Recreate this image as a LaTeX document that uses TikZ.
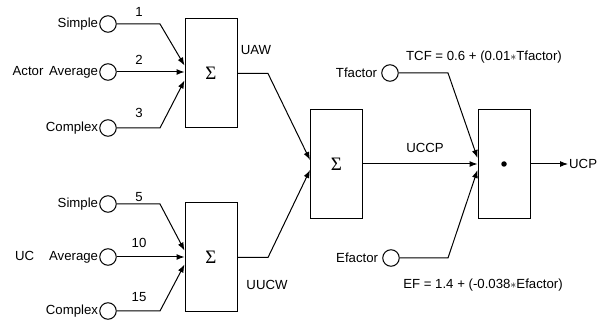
\documentclass[tikz,border=0pt]{standalone}
\usepackage{fontspec}
\setmainfont{Liberation Sans}
\newfontfamily\sigfont{Liberation Serif}
\usetikzlibrary{arrows.meta}
\begin{document}
\begin{tikzpicture}[x=1pt,y=-1pt,
 font=\fontsize{13.2}{15}\selectfont,
 ln/.style={line width=1pt},
 arr/.style={ln,-{Latex[length=8pt,width=6pt]}},
 inp/.style={circle,draw,line width=1pt,minimum size=16.5pt,inner sep=0pt},
 box/.style={draw,line width=1pt,minimum width=52pt,minimum height=109pt,inner sep=0pt},
 lbl/.style={inner sep=1pt},
 sig/.style={font=\sigfont\fontsize{19}{19}\selectfont}]
\useasboundingbox (0,0) rectangle (605,320);
% boxes
\node[box,sig] (b1) at (211,73.5) {Σ};
\node[box,sig] (b2) at (211,257.5) {Σ};
\node[box,sig] (b3) at (336.5,164) {Σ};
\node[box] (b4) at (504,164) {};
\node[circle,fill,inner sep=0pt,minimum size=5.5pt] (dot) at (b4.center) {};
% input circles
\node[inp] (a1) at (108,24) {};
\node[inp] (a2) at (108,72) {};
\node[inp] (a3) at (108,128) {};
\node[inp] (u1) at (108,204) {};
\node[inp] (u2) at (108,257) {};
\node[inp] (u3) at (108,311) {};
\node[inp] (tf) at (390,73) {};
\node[inp] (ef) at (391,258) {};
% input labels
\node[lbl,anchor=east] at (a1.west) {Simple};
\node[lbl,anchor=east] at (a2.west) {Actor\hspace{2pt} Average};
\node[lbl,anchor=east] at (a3.west) {Complex};
\node[lbl,anchor=east] at (u1.west) {Simple};
\node[lbl,anchor=east] at (u2.west) {UC\hspace{15pt}Average};
\node[lbl,anchor=east] at (u3.west) {Complex};
\node[lbl,anchor=east] at ([xshift=-3pt]tf.west) {Tfactor};
\node[lbl,anchor=east] at ([xshift=-3pt]ef.west) {Efactor};
% weights
\node[lbl] at (139,12) {1};
\node[lbl] at (139,60) {2};
\node[lbl] at (139,113) {3};
\node[lbl] at (139,197) {5};
\node[lbl] at (139,243) {10};
\node[lbl] at (139,297) {15};
% other labels
\node[lbl] at (256,50) {UAW};
\node[lbl] at (267,285) {UUCW};
\node[lbl] at (425,148) {UCCP};
\node[lbl] at (484,57) {TCF = 0.6 + (0.01$\ast$Tfactor)};
\node[lbl] at (483,285) {EF = 1.4 + (-0.038$\ast$Efactor)};
\node[lbl,anchor=west] (ucp) at (568,164) {UCP};
% connectors
\draw[arr] (a1.east) -- (160,24) -- ([yshift=8pt]b1.west);
\draw[arr] (a2.east) -- (b1.west |- a2.east);
\draw[arr] (a3.east) -- (160,128) -- ([yshift=-7pt]b1.west);
\draw[arr] (u1.east) -- (160,204) -- ([yshift=7pt]b2.west);
\draw[arr] (u2.east) -- (b2.west |- u2.east);
\draw[arr] (u3.east) -- (160,311) -- ([yshift=-7pt]b2.west);
\draw[arr] (b1.east) -- (268,73.5) -- ([yshift=4pt]b3.west);
\draw[arr] (b2.east) -- (268,257.5) -- ([yshift=-6pt]b3.west);
\draw[arr] (b3.east) -- (b4.west);
\draw[arr] (tf.east) -- (448,73) -- ([yshift=6pt]b4.west);
\draw[arr] (ef.east) -- (448,258) -- ([yshift=-6pt]b4.west);
\draw[arr] (b4.east) -- (ucp.west);
\end{tikzpicture}
\end{document}
